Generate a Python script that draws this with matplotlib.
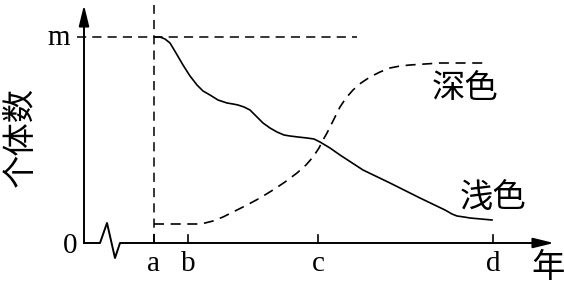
import matplotlib
matplotlib.use("Agg")
import matplotlib.pyplot as plt

# x positions of the years, y value of m (axis units)
years = ["a", "b", "c", "d"]
year_x = [70, 104, 234, 409]
m_val = 206

# light-coloured individuals (solid)
light_x = [71, 76, 81, 86, 92, 99, 106, 113, 119, 126, 134, 143, 149, 154, 160,
           166, 172, 179, 186, 193, 200, 206, 214, 223, 230, 236, 246, 256, 279,
           306, 336, 361, 368, 373, 380, 386, 408]
light_y = [206, 206, 204, 200, 190, 178, 167, 158, 152, 148, 143, 140, 139, 138,
           136, 133, 127, 120, 115, 111, 108, 107, 106, 105, 104, 101, 95, 88, 73,
           60, 45, 33, 29, 27, 26, 25, 23]

# dark-coloured individuals (dashed)
dark_x = [70, 106, 115, 121, 129, 139, 151, 163, 176, 189, 201, 213, 222, 229,
          235, 239, 243, 246, 251, 256, 262, 269, 277, 286, 296, 306, 316, 326,
          356, 399]
dark_y = [19, 19, 19, 20, 22, 26, 32, 38, 45, 53, 61, 70, 78, 86, 95, 103, 110,
          116, 126, 136, 145, 153, 160, 166, 171, 175, 177, 178, 180, 180]

cjk = ["Noto Sans CJK SC", "DejaVu Sans"]
serif = "Liberation Serif"

fig = plt.figure(figsize=(5.64, 2.86), dpi=100)
ax = fig.add_axes([0, 0, 1, 1])
ax.set_xlim(-84, 480)
ax.set_ylim(-43, 243)
ax.axis("off")

dash = (0, (6, 4))

# axes with the break on the x axis
ax.plot([0, 16, 23, 31, 36, 462], [0, 0, 20, -15, 0, 0], color="black", lw=1.4)
ax.plot([0, 0], [0, 228], color="black", lw=1.4)
arrow = dict(arrowstyle="-|>,head_length=0.9,head_width=0.22", color="black",
             lw=1.4, shrinkA=0, shrinkB=0, mutation_scale=14)
ax.annotate("", xy=(0, 238), xytext=(0, 220), arrowprops=arrow)
ax.annotate("", xy=(470, 0), xytext=(455, 0), arrowprops=arrow)

# ticks and labels
for lab, x in zip(years, year_x):
    ax.plot([x, x], [0, 8], color="black", lw=1.2)
    ax.text(x, -28, lab, fontsize=21, family=serif, ha="center", va="baseline")
ax.text(-14, -10, "0", fontsize=21, family=serif, ha="center", va="baseline")
ax.text(-25, 198, "m", fontsize=21, family=serif, ha="center", va="baseline")
ax.text(464, -25, "年", fontsize=24, family=cjk, ha="center", va="center")
ax.text(-64, 106, "个体数", fontsize=24, family=cjk, ha="center", va="center",
        rotation=90)

# reference lines
ax.plot([-7, 273], [m_val, m_val], color="black", lw=1.1, linestyle=dash)
ax.plot([year_x[0], year_x[0]], [0, 238], color="black", lw=1.1, linestyle=dash)

# curves
ax.plot(light_x, light_y, color="black", lw=1.2)
ax.plot(dark_x, dark_y, color="black", lw=1.2, linestyle=dash)

ax.text(381, 155, "深色", fontsize=24, family=cjk, ha="center", va="center")
ax.text(409, 45, "浅色", fontsize=24, family=cjk, ha="center", va="center")

fig.savefig("out.png", dpi=100)
